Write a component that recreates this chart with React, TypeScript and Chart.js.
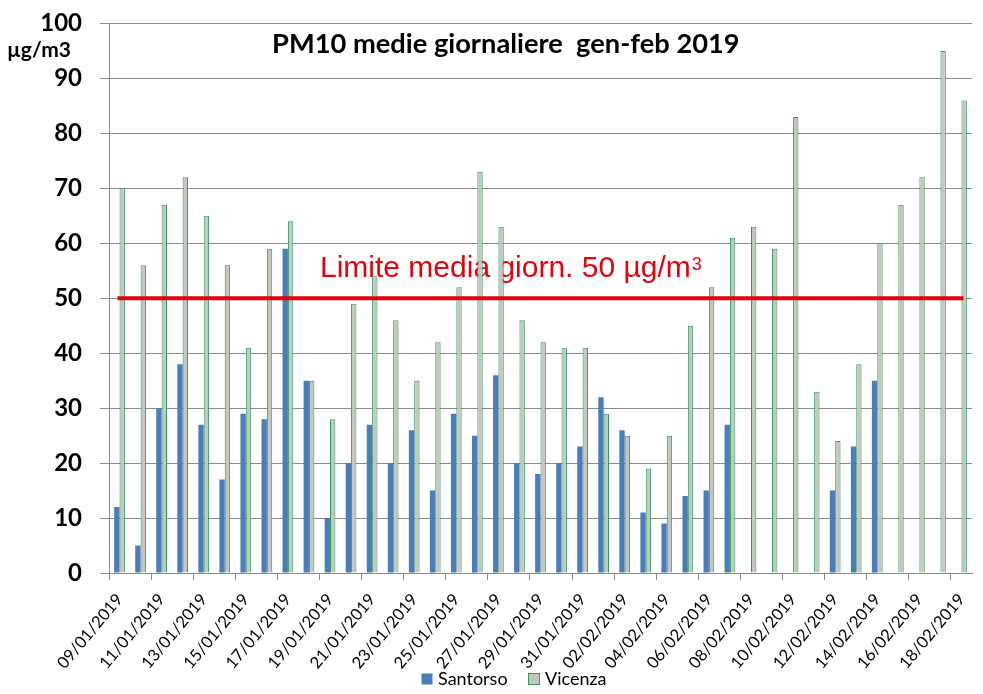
import React, { useEffect, useRef } from 'react';
import { Chart, registerables } from 'chart.js';

Chart.register(...registerables);

const categories = [
  '09/01/2019', '10/01/2019', '11/01/2019', '12/01/2019', '13/01/2019', '14/01/2019', '15/01/2019',
  '16/01/2019', '17/01/2019', '18/01/2019', '19/01/2019', '20/01/2019', '21/01/2019', '22/01/2019',
  '23/01/2019', '24/01/2019', '25/01/2019', '26/01/2019', '27/01/2019', '28/01/2019', '29/01/2019',
  '30/01/2019', '31/01/2019', '01/02/2019', '02/02/2019', '03/02/2019', '04/02/2019', '05/02/2019',
  '06/02/2019', '07/02/2019', '08/02/2019', '09/02/2019', '10/02/2019', '11/02/2019', '12/02/2019',
  '13/02/2019', '14/02/2019', '15/02/2019', '16/02/2019', '17/02/2019', '18/02/2019',
];

const santorso = [
  12, 5, 30, 38, 27, 17, 29, 28, 59, 35,
  10, 20, 27, 20, 26, 15, 29, 25, 36, 20,
  18, 20, 23, 32, 26, 11, 9, 14, 15, 27,
  null, null, null, null, 15, 23, 35, null, null, null,
  null,
];

const vicenza = [
  70, 56, 67, 72, 65, 56, 41, 59, 64, 35,
  28, 49, 54, 46, 35, 42, 52, 73, 63, 46,
  42, 41, 41, 29, 25, 19, 25, 45, 52, 61,
  63, 59, 83, 33, 24, 38, 60, 67, 72, 95,
  86,
];

const limitLine = [
  50, 50, 50, 50, 50, 50, 50, 50, 50, 50,
  50, 50, 50, 50, 50, 50, 50, 50, 50, 50,
  50, 50, 50, 50, 50, 50, 50, 50, 50, 50,
  50, 50, 50, 50, 50, 50, 50, 50, 50, 50,
  50,
];

const yMin = 0;
const yMax = 100;
const yStep = 10;

const TITLE = 'PM10 medie giornaliere  gen-feb 2019';
const UNIT = 'µg/m3';
const LIMIT_TEXT = 'Limite media giorn. 50 µg/m';
const SERIES_NAMES = ['Santorso', 'Vicenza'];

const BLUE = '#4A7EBB';
const VIC_FILL = '#C2C8BC';
const VIC_BORDER = '#2E9A62';
const RED = '#E5000C';
const GRID = '#8A8A8A';

const textPlugin = {
  id: 'customTexts',
  beforeDatasetsDraw(chart: any) {
    const ctx = chart.ctx;
    ctx.save();
    ctx.fillStyle = RED;
    ctx.textAlign = 'left';
    ctx.textBaseline = 'alphabetic';
    ctx.font = '30px "Liberation Sans", Arial, sans-serif';
    ctx.fillText(LIMIT_TEXT, 320, 277);
    const w = ctx.measureText(LIMIT_TEXT).width;
    ctx.font = '18px "Liberation Sans", Arial, sans-serif';
    ctx.fillText('3', 320 + w + 1, 270);
    ctx.restore();
  },
  afterDraw(chart: any) {
    const ctx = chart.ctx;
    ctx.save();
    ctx.fillStyle = '#000';
    ctx.textAlign = 'left';
    ctx.textBaseline = 'alphabetic';
    ctx.font = 'bold 100px Lato, sans-serif';
    const tw = ctx.measureText(TITLE).width;
    const ts = (100 * 468) / tw;
    ctx.font = `bold ${ts}px Lato, sans-serif`;
    ctx.fillText(TITLE, 272, 53);
    ctx.font = 'bold 100px Lato, sans-serif';
    const uw = ctx.measureText(UNIT).width;
    const us = (100 * 64) / uw;
    ctx.font = `bold ${us}px Lato, sans-serif`;
    ctx.fillText(UNIT, 7, 57);
    ctx.font = '18px Lato, sans-serif';
    ctx.fillStyle = BLUE;
    ctx.fillRect(421.5, 673.5, 11, 11);
    ctx.fillStyle = VIC_FILL;
    ctx.fillRect(528.5, 673.5, 11, 11);
    ctx.strokeStyle = VIC_BORDER;
    ctx.lineWidth = 1;
    ctx.strokeRect(528.5, 673.5, 11, 11);
    ctx.fillStyle = '#000';
    ctx.fillText(SERIES_NAMES[0], 438, 685);
    ctx.fillText(SERIES_NAMES[1], 545, 685);
    ctx.restore();
  },
};

export default function App() {
  const canvasRef = useRef<HTMLCanvasElement | null>(null);

  useEffect(() => {
    document.body.style.margin = '0';
    const canvas = canvasRef.current;
    if (!canvas) return;
    const chart = new Chart(canvas, {
      type: 'bar',
      data: {
        labels: categories,
        datasets: [
          {
            type: 'line',
            label: 'Limite',
            data: limitLine,
            borderColor: RED,
            backgroundColor: RED,
            borderWidth: 4,
            pointRadius: 0,
            borderCapStyle: 'square',
            order: 0,
          } as any,
          {
            type: 'bar',
            label: SERIES_NAMES[0],
            data: santorso,
            backgroundColor: BLUE,
            borderWidth: 0,
            barPercentage: 1,
            categoryPercentage: 0.51,
            order: 1,
          } as any,
          {
            type: 'bar',
            label: SERIES_NAMES[1],
            data: vicenza,
            backgroundColor: VIC_FILL,
            borderColor: VIC_BORDER,
            borderWidth: 1,
            barPercentage: 1,
            categoryPercentage: 0.51,
            order: 1,
          } as any,
        ],
      },
      options: {
        responsive: false,
        animation: false,
        layout: { padding: { top: 23.5, right: 11, left: 0, bottom: 0 } },
        plugins: {
          legend: { display: false },
          tooltip: { enabled: false },
          title: { display: false },
        },
        scales: {
          x: {
            offset: true,
            grid: {
              offset: true,
              drawOnChartArea: false,
              drawTicks: true,
              tickLength: 7,
              color: (c: any) => (c.index % 2 === 0 ? GRID : 'rgba(0,0,0,0)'),
            },
            border: { display: true, color: GRID },
            ticks: {
              autoSkip: false,
              maxRotation: 50,
              minRotation: 50,
              padding: 10,
              color: '#000',
              font: { family: 'Lato', size: 16.5 },
              callback: function (this: any, v: any, i: number) {
                return i % 2 === 0 ? this.getLabelForValue(v) : '';
              },
            },
            afterFit: (s: any) => {
              s.height = 121;
              s.paddingLeft = 0;
              s.paddingRight = 0;
            },
          },
          y: {
            min: yMin,
            max: yMax,
            ticks: {
              stepSize: yStep,
              padding: 18,
              color: '#000',
              font: { family: 'Lato', size: 24, weight: 'bold' },
            },
            grid: { color: GRID, tickLength: 9 },
            border: { color: GRID },
            afterFit: (s: any) => {
              s.width = 109;
              s.paddingTop = 0;
              s.paddingBottom = 0;
            },
          },
        },
      } as any,
      plugins: [textPlugin],
    });
    return () => chart.destroy();
  }, []);

  return (
    <div style={{ width: 983, height: 694, background: '#fff' }}>
      <canvas ref={canvasRef} width={983} height={694} style={{ display: 'block' }} />
    </div>
  );
}
